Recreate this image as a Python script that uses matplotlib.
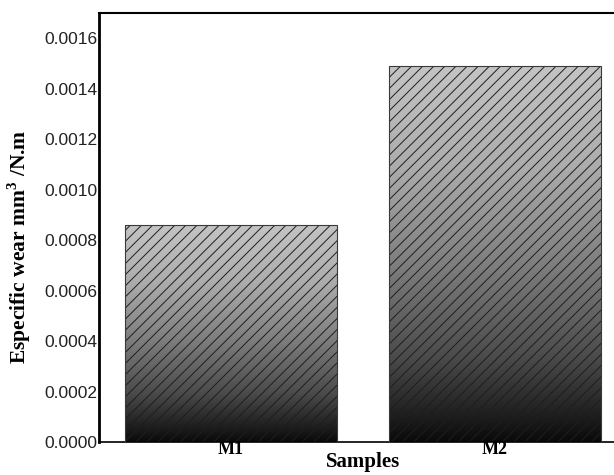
import matplotlib.pyplot as plt
import numpy as np
from matplotlib.colors import LinearSegmentedColormap

samples = ['M1', 'M2']
wear = [0.000861, 0.001488]
yticks = [0.0000, 0.0002, 0.0004, 0.0006, 0.0008, 0.0010, 0.0012, 0.0014, 0.0016]

plt.rcParams['mathtext.fontset'] = 'custom'
plt.rcParams['mathtext.rm'] = 'Liberation Serif:bold'
plt.rcParams['mathtext.bf'] = 'Liberation Serif:bold'
plt.rcParams['hatch.linewidth'] = 0.7

fig = plt.figure(figsize=(6.14, 4.75), dpi=100)
ax = fig.add_axes([99 / 614, 33 / 475, 528 / 614, 429 / 475])

# gray gradient, black at the base of each bar, light gray at its top
cmap = LinearSegmentedColormap.from_list(
    'bargrad', [(0.0, '#0a0a0a'), (0.22, '#4a4a4a'), (0.46, '#7c7c7c'),
                (0.73, '#acacac'), (1.0, '#c4c4c4')])
grad = np.linspace(0, 1, 256).reshape(-1, 1)

x = np.arange(len(samples))
width = 0.8
bars = ax.bar(x, wear, width, color='none', edgecolor='#3a3a3a', linewidth=0.8, zorder=3)
for rect in bars:
    x0, y0 = rect.get_x(), rect.get_y()
    w, h = rect.get_width(), rect.get_height()
    im = ax.imshow(grad, cmap=cmap, origin='lower', aspect='auto',
                   extent=[x0, x0 + w, y0, y0 + h], zorder=1)
    im.set_clip_path(rect)

ax.bar(x, wear, width, color='none', edgecolor='#1e1e1e', hatch='///', linewidth=0, zorder=2)

ax.set_xlim(-0.5, 1.5)
ax.set_ylim(0, 0.0017)
ax.set_yticks(yticks)
ax.set_yticklabels([f'{v:.4f}' for v in yticks], fontsize=12.5, color='#222222',
                   family='Liberation Sans')
ax.set_xticks(x)
ax.set_xticklabels(samples, fontsize=13, fontweight='bold', family='Liberation Serif')
ax.tick_params(axis='both', length=0)
ax.tick_params(axis='y', pad=1)
ax.tick_params(axis='x', pad=-1)

ax.set_xlabel('Samples', fontsize=15, fontweight='bold', family='Liberation Serif', labelpad=-4)
ax.set_ylabel(r'Especific wear mm$^{\mathrm{3}}$ /N.m', fontsize=15.5, fontweight='bold',
              family='Liberation Serif')
ax.yaxis.set_label_coords(-0.125, 0.455)

ax.spines['left'].set_linewidth(2)
ax.spines['top'].set_linewidth(1.5)
ax.spines['bottom'].set_linewidth(1.2)

fig.savefig('out.png', dpi=100)
